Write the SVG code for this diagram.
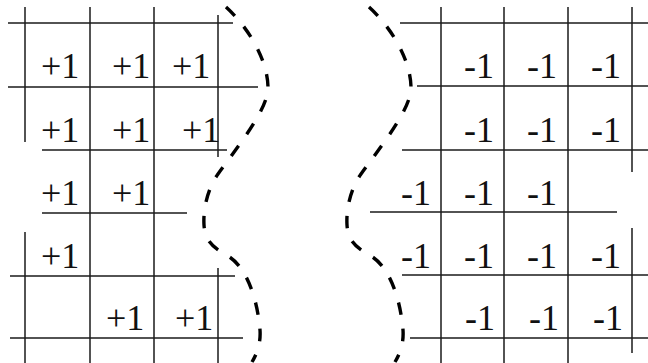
<svg xmlns="http://www.w3.org/2000/svg" xmlns:xlink="http://www.w3.org/1999/xlink" width="648" height="363" viewBox="0 0 648 363">
<style>
.g{stroke:#1a1a1a;stroke-width:1.5;fill:none}
.d{stroke:#000;stroke-width:3.4;fill:none;stroke-dasharray:12.5 14}
.t{font-family:"Liberation Serif","Times New Roman",serif;font-size:36px;fill:#111}
</style>
<defs>
<path id="curve" d="M226,7 C248,27 268,60 268,88 C268,110 235,150 218,174 C208,188 203,208 204,225 C205,242 214,248 228,256 C245,266 257,295 260,330 C261,345 256,355 252,362"/>
</defs>
<rect width="648" height="363" fill="#fff"/>
<g id="left-grid" class="g">
<line x1="8" y1="23" x2="233" y2="23"/>
<line x1="8" y1="87" x2="258" y2="87"/>
<line x1="42" y1="150" x2="227" y2="150"/>
<line x1="42" y1="213" x2="187" y2="213"/>
<line x1="10" y1="276" x2="235" y2="276"/>
<line x1="10" y1="338" x2="243" y2="338"/>
<line x1="25" y1="7" x2="25" y2="142"/>
<line x1="25" y1="232" x2="25" y2="363"/>
<line x1="90" y1="7" x2="90" y2="363"/>
<line x1="154" y1="7" x2="154" y2="363"/>
<line x1="218" y1="15" x2="218" y2="157"/>
<line x1="218" y1="268" x2="218" y2="363"/>
</g>
<g id="right-grid" class="g">
<line x1="400" y1="23" x2="648" y2="23"/>
<line x1="417" y1="86" x2="648" y2="86"/>
<line x1="402" y1="150" x2="648" y2="150"/>
<line x1="370" y1="212" x2="617" y2="212"/>
<line x1="402" y1="275" x2="648" y2="275"/>
<line x1="410" y1="338" x2="648" y2="338"/>
<line x1="441" y1="7" x2="441" y2="363"/>
<line x1="504" y1="7" x2="504" y2="363"/>
<line x1="568" y1="7" x2="568" y2="363"/>
<line x1="632" y1="7" x2="632" y2="172"/>
<line x1="632" y1="228" x2="632" y2="353"/>
</g>
<g id="left-values" class="t">
<text x="41" y="78">+1</text><text x="112" y="78">+1</text><text x="172" y="78">+1</text>
<text x="41" y="142">+1</text><text x="112" y="142">+1</text><text x="182" y="142">+1</text>
<text x="41" y="205">+1</text><text x="112" y="205">+1</text>
<text x="41" y="268">+1</text>
<text x="106" y="330">+1</text><text x="175" y="330">+1</text>
</g>
<g id="right-values" class="t">
<text x="464" y="78">-1</text><text x="527" y="78">-1</text><text x="591" y="78">-1</text>
<text x="464" y="142">-1</text><text x="527" y="142">-1</text><text x="591" y="142">-1</text>
<text x="401" y="205">-1</text><text x="464" y="205">-1</text><text x="527" y="205">-1</text>
<text x="401" y="268">-1</text><text x="464" y="268">-1</text><text x="527" y="268">-1</text><text x="591" y="268">-1</text>
<text x="465" y="330">-1</text><text x="529" y="330">-1</text><text x="593" y="330">-1</text>
</g>
<g id="boundaries">
<use xlink:href="#curve" class="d"/>
<use xlink:href="#curve" class="d" transform="translate(143,0)"/>
</g>
</svg>
